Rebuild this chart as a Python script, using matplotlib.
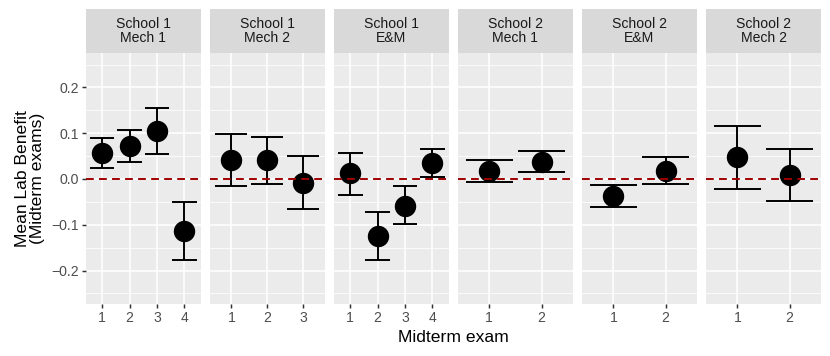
import matplotlib.pyplot as plt

plt.rcParams['font.family'] = ['Liberation Sans', 'DejaVu Sans']

# one entry per facet
panel_labels = ["School 1\nMech 1", "School 1\nMech 2", "School 1\nE&M",
                "School 2\nMech 1", "School 2\nE&M", "School 2\nMech 2"]

mean_benefit = [
    [0.057, 0.072, 0.105, -0.114],
    [0.041, 0.041, -0.008],
    [0.012, -0.125, -0.058, 0.034],
    [0.018, 0.038],
    [-0.038, 0.018],
    [0.047, 0.008],
]
upper_ci = [
    [0.090, 0.108, 0.154, -0.050],
    [0.099, 0.092, 0.051],
    [0.057, -0.073, -0.016, 0.065],
    [0.041, 0.062],
    [-0.014, 0.047],
    [0.115, 0.066],
]
lower_ci = [
    [0.025, 0.037, 0.055, -0.178],
    [-0.015, -0.010, -0.065],
    [-0.034, -0.177, -0.099, 0.004],
    [-0.006, 0.016],
    [-0.062, -0.010],
    [-0.021, -0.049],
]

y_ticks = [-0.2, -0.1, 0.0, 0.1, 0.2]
y_minor = [-0.25, -0.15, -0.05, 0.05, 0.15, 0.25]

W, H = 830, 356
fig = plt.figure(figsize=(W / 100, H / 100), dpi=100)

panel_left = 85.7
panel_w = 115.0
panel_step = 124.06
panel_top = 53.3
panel_bot = 304.0
strip_top = 9.0
small = 10.1
big = 12.6

for i, label in enumerate(panel_labels):
    x0 = (panel_left + i * panel_step) / W
    ax = fig.add_axes([x0, 1 - panel_bot / H, panel_w / W, (panel_bot - panel_top) / H])
    strip = fig.add_axes([x0, 1 - panel_top / H, panel_w / W, (panel_top - strip_top) / H])

    strip.set_facecolor('#D9D9D9')
    strip.set_xticks([])
    strip.set_yticks([])
    for s in strip.spines.values():
        s.set_visible(False)
    strip.text(0.5, 0.5, label, ha='center', va='center', fontsize=small,
               color='#1A1A1A', linespacing=1.0, transform=strip.transAxes)

    means = mean_benefit[i]
    exams = list(range(1, len(means) + 1))
    up = [u - m for u, m in zip(upper_ci[i], means)]
    lo = [m - l for l, m in zip(lower_ci[i], means)]

    ax.set_facecolor('#EBEBEB')
    for s in ax.spines.values():
        s.set_visible(False)

    ax.set_xlim(0.4, len(means) + 0.6)
    ax.set_ylim(-0.273, 0.2745)

    # grid lines, ggplot style
    for y in y_minor:
        ax.axhline(y, color='white', lw=0.55, zorder=0)
    for y in y_ticks:
        ax.axhline(y, color='white', lw=1.1, zorder=0)
    for x in exams:
        ax.axvline(x, color='white', lw=1.1, zorder=0)

    ax.errorbar(exams, means, yerr=[lo, up], fmt='none', ecolor='black',
                elinewidth=1.4, capsize=0, zorder=2)
    cap_half = 0.45
    ax.hlines(upper_ci[i], [x - cap_half for x in exams], [x + cap_half for x in exams],
              colors='black', lw=1.4, zorder=2)
    ax.hlines(lower_ci[i], [x - cap_half for x in exams], [x + cap_half for x in exams],
              colors='black', lw=1.4, zorder=2)
    ax.plot(exams, means, 'o', color='black', markersize=14.4, zorder=3)

    ax.axhline(0, color='#A00000', lw=1.4, linestyle=(0, (4, 2.7)), zorder=4)

    ax.set_xticks(exams)
    ax.set_xticklabels([str(e) for e in exams])
    ax.tick_params(axis='x', length=2.75, width=1.07, color='#333333',
                   labelsize=small, labelcolor='#4D4D4D', pad=2.0)
    if i == 0:
        ax.set_yticks(y_ticks)
        ax.set_yticklabels([('%.1f' % v).replace('-', '\u2212') for v in y_ticks])
        ax.tick_params(axis='y', length=2.75, width=1.07, color='#333333',
                       labelsize=small, labelcolor='#4D4D4D', pad=2.0)
    else:
        ax.set_yticks([])

fig.text(30 / W, 1 - 178.7 / H, "Mean Lab Benefit\n(Midterm exams)", rotation=90,
         ha='center', va='center', fontsize=big, linespacing=0.95)
fig.text(453 / W, 1 - 338 / H, "Midterm exam", ha='center', va='center', fontsize=big)

fig.savefig('out.png', dpi=100)
